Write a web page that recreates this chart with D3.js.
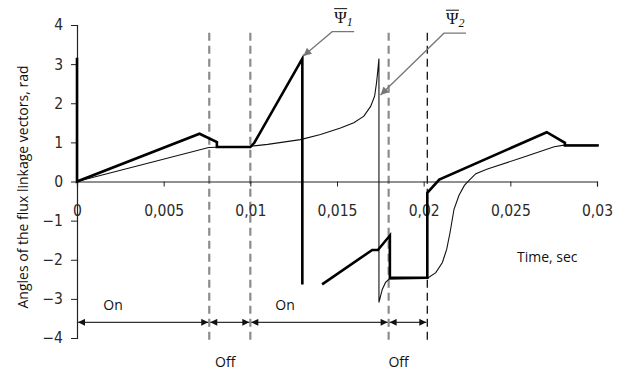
<!DOCTYPE html>
<html>
<head>
<meta charset="utf-8">
<script src="https://cdn.jsdelivr.net/npm/d3@7"></script>
<style>
  body { margin: 0; background: #fff; }
  svg { display: block; }
  .tick text { font-family: "Liberation Sans Narrow", "DejaVu Sans Condensed", sans-serif; font-size: 15.5px; fill: #2a2a2a; }
  .lbl { font-family: "Open Sans", sans-serif; font-size: 14px; fill: #111; }
</style>
</head>
<body>
<svg id="chart" width="620" height="376"></svg>
<script>
// tick values
var xTicks = [0, 0.005, 0.01, 0.015, 0.02, 0.025, 0.03];
var xTickLabels = ["0", "0,005", "0,01", "0,015", "0,02", "0,025", "0,03"];
var yTicks = [-4, -3, -2, -1, 0, 1, 2, 3, 4];

// thick curve, Psi 1 (two pieces)
var psi1a = [[0, 3.16], [0, 0], [0.00707, 1.22], [0.00807, 1.01], [0.00807, 0.88],
  [0.0100, 0.88], [0.01023, 0.99], [0.0130, 3.14], [0.0130, -2.63]];
var psi1b = [[0.01414, -2.63], [0.01703, -1.75], [0.01736, -1.75], [0.01805, -1.38],
  [0.01805, -2.46], [0.02021, -2.46], [0.02021, -0.29], [0.0209, 0.05], [0.0271, 1.26],
  [0.02815, 0.99], [0.02815, 0.92], [0.0301, 0.92]];

// thin curve, Psi 2
var psi2 = [[0, 0], [0.0076, 0.87], [0.0100, 0.90], [0.0110, 0.95], [0.01289, 1.07],
  [0.01405, 1.20], [0.0152, 1.37], [0.01597, 1.50], [0.01655, 1.67], [0.01694, 1.92],
  [0.01717, 2.18], [0.01728, 2.52], [0.01736, 2.86], [0.01742, 3.14], [0.01742, -3.09],
  [0.01761, -2.76], [0.0178, -2.58], [0.01799, -2.50], [0.0202, -2.48], [0.0207, -2.33],
  [0.02108, -2.07], [0.02133, -1.73], [0.02152, -1.31], [0.02175, -0.71], [0.02204, -0.35],
  [0.02235, -0.10], [0.02262, 0.03], [0.02301, 0.20], [0.02368, 0.32], [0.02561, 0.60],
  [0.02753, 0.89], [0.02811, 0.93], [0.0301, 0.93]];

// switching moments (dashed lines) and on/off intervals
var switchTimes = [0.00763, 0.0100, 0.01798, 0.02021];
var switchGray = [true, true, true, false];
var intervals = [[0, 0.00763], [0.00763, 0.0100], [0.0100, 0.01798], [0.01798, 0.02021]];
var stateLabels = ["On", "Off", "On", "Off"];
var stateLabelX = [0.00208, 0.00855, 0.0120, 0.01855];
var stateLabelY = [-3.28, -4.75, -3.28, -4.75];

// curve labels: [label x, label y, arrow tip x, arrow tip y]
var curveNames = ["1", "2"];
var curveLabelPos = [[0.01472, 3.83, 0.01306, 3.21], [0.02117, 3.79, 0.01751, 2.21]];

var svg = d3.select("#chart");
var x = d3.scaleLinear().domain([0, 0.03]).range([77, 597]);
var y = d3.scaleLinear().domain([-4, 4]).range([338, 25]);

svg.append("rect").attr("width", 620).attr("height", 376).attr("fill", "#fff");

var defs = svg.append("defs");
function marker(id, color, w, h) {
  defs.append("marker").attr("id", id)
    .attr("viewBox", "0 0 10 10").attr("refX", 10).attr("refY", 5)
    .attr("markerWidth", w).attr("markerHeight", h).attr("markerUnits", "userSpaceOnUse")
    .attr("orient", "auto-start-reverse")
    .append("path").attr("d", "M0,0L10,5L0,10z").attr("fill", color);
}
marker("ah", "#111", 9, 7);
marker("ahg", "#777", 10, 8);

// dashed switching lines
svg.append("g").selectAll("line").data(switchTimes).enter().append("line")
  .attr("x1", function(d) { return x(d); }).attr("x2", function(d) { return x(d); })
  .attr("y1", y(3.8)).attr("y2", y(-4.05))
  .attr("stroke", function(d, i) { return switchGray[i] ? "#8c8c8c" : "#111"; })
  .attr("stroke-width", function(d, i) { return switchGray[i] ? 2.2 : 1.3; })
  .attr("stroke-dasharray", "8,5");

// y axis
var gy = svg.append("g").attr("transform", "translate(" + x(0) + ",0)")
  .call(d3.axisLeft(y).tickValues(yTicks).tickSize(6).tickPadding(8).tickFormat(d3.format("d")));
gy.select(".domain").attr("stroke", "#222").attr("stroke-width", 1.2);
gy.selectAll(".tick line").attr("stroke", "#222");

// x axis through zero
var gx = svg.append("g").attr("transform", "translate(0," + y(0) + ")")
  .call(d3.axisBottom(x).tickValues(xTicks).tickSize(5).tickPadding(18)
    .tickFormat(function(d, i) { return xTickLabels[i]; }));
gx.select(".domain").attr("stroke", "#222").attr("stroke-width", 1.2);
gx.selectAll(".tick line").attr("stroke", "#222");

// curves
var line = d3.line().x(function(d) { return x(d[0]); }).y(function(d) { return y(d[1]); });
svg.append("path").datum(psi2).attr("d", line)
  .attr("fill", "none").attr("stroke", "#111").attr("stroke-width", 1.1);
[psi1a, psi1b].forEach(function(p) {
  svg.append("path").datum(p).attr("d", line)
    .attr("fill", "none").attr("stroke", "#000").attr("stroke-width", 2.6)
    .attr("stroke-linejoin", "miter");
});

// on/off interval arrows
svg.append("g").selectAll("line").data(intervals).enter().append("line")
  .attr("x1", function(d) { return x(d[0]) + 1; }).attr("x2", function(d) { return x(d[1]) - 1; })
  .attr("y1", y(-3.6)).attr("y2", y(-3.6))
  .attr("stroke", "#333").attr("stroke-width", 1.2)
  .attr("marker-start", "url(#ah)").attr("marker-end", "url(#ah)");

svg.append("g").selectAll("text").data(stateLabels).enter().append("text")
  .attr("class", "lbl").attr("text-anchor", "middle")
  .attr("x", function(d, i) { return x(stateLabelX[i]); })
  .attr("y", function(d, i) { return y(stateLabelY[i]); })
  .text(function(d) { return d; });

// axis titles
svg.append("text").attr("class", "lbl").attr("text-anchor", "middle")
  .attr("transform", "translate(28,187) rotate(-90)")
  .text("Angles of the flux linkage vectors, rad");
svg.append("text").attr("class", "lbl").attr("x", 517).attr("y", 262).text("Time, sec");

// curve labels with leaders
curveLabelPos.forEach(function(p, i) {
  var lx = x(p[0]), ly = y(p[1]);
  svg.append("path")
    .attr("d", "M" + (lx + 22) + "," + ly + "L" + lx + "," + ly + "L" + x(p[2]) + "," + y(p[3]))
    .attr("fill", "none").attr("stroke", "#777").attr("stroke-width", 1.3)
    .attr("marker-end", "url(#ahg)");
  var t = svg.append("text").attr("x", lx + 2).attr("y", ly - 9)
    .attr("font-family", "Liberation Serif, serif").attr("font-size", 17).attr("fill", "#111");
  t.append("tspan").text("\u03A8");
  t.append("tspan").attr("dy", 3).attr("font-size", 12).attr("font-style", "italic").text(curveNames[i]);
  svg.append("line").attr("x1", lx + 2).attr("x2", lx + 15)
    .attr("y1", ly - 23).attr("y2", ly - 23).attr("stroke", "#111").attr("stroke-width", 1);
});
</script>
</body>
</html>
